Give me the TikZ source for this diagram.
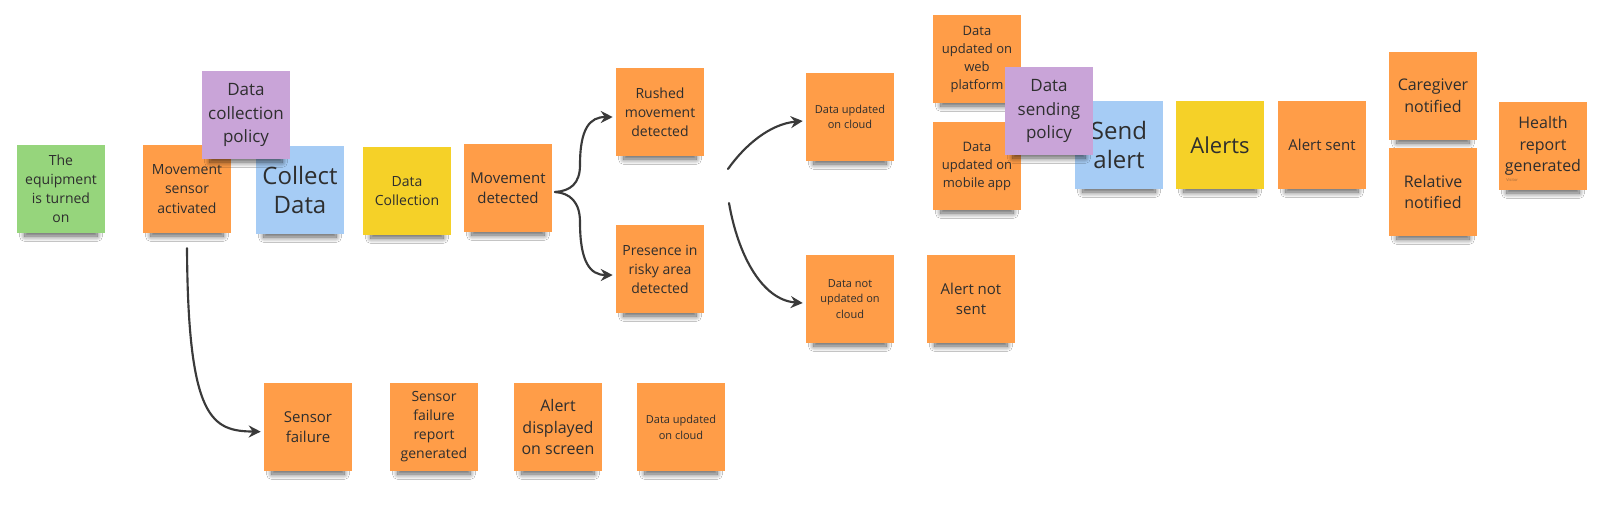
\documentclass[tikz,border=0pt]{standalone}
\usepackage{fontspec}
\setmainfont{Open Sans}
\usetikzlibrary{shadows.blur,arrows.meta,calc}
\definecolor{noteorange}{HTML}{FF9D48}
\definecolor{notegreen}{HTML}{96D57C}
\definecolor{noteblue}{HTML}{A6CCF5}
\definecolor{noteyellow}{HTML}{F5D128}
\definecolor{notepurple}{HTML}{C9A4D8}
\definecolor{notetext}{HTML}{2E2E2E}
\definecolor{arrowgray}{HTML}{3A3A3A}
\begin{document}
\begin{tikzpicture}[x=0.75pt,y=-0.75pt,
  note/.style={rectangle, minimum width=66pt, minimum height=66pt, inner sep=0pt,
    align=center, text=notetext,
    blur shadow={shadow xshift=0pt, shadow yshift=-10pt, shadow scale=0.82,
      shadow blur radius=5pt, shadow blur steps=10, shadow opacity=65}},
  orangenote/.style={note, fill=noteorange},
  greennote/.style={note, fill=notegreen},
  bluenote/.style={note, fill=noteblue},
  yellownote/.style={note, fill=noteyellow},
  purplenote/.style={note, fill=notepurple},
  fxs/.style={font=\fontsize{8.25}{11.8}\selectfont},
  fs/.style={font=\fontsize{9.75}{13.5}\selectfont},
  fm/.style={font=\fontsize{10.5}{14.3}\selectfont},
  fml/.style={font=\fontsize{11.25}{15.4}\selectfont},
  fl/.style={font=\fontsize{12}{16.2}\selectfont},
  fp/.style={font=\fontsize{12.75}{17.3}\selectfont},
  fxl/.style={font=\fontsize{18}{21.5}\selectfont},
  fxlb/.style={font=\fontsize{16.5}{20}\selectfont},
  arr/.style={draw=arrowgray, line width=1.6pt, line cap=round,
    -{Stealth[length=9pt,width=9pt,inset=3pt]}}
]
\useasboundingbox[fill=white] (0,0) rectangle (1600,519);

% main row
\node[greennote, fm] (eq) at (61,189) {The\\equipment\\is turned\\on};
\node[orangenote, fm] (msa) at (187,189) {Movement\\sensor\\activated};
\node[bluenote, fxl] (collect) at (300,190) {Collect\\Data};
\node[purplenote, fp] (dcp) at (246,115) {Data\\collection\\policy};
\node[yellownote, fm] (dcol) at (407,191) {Data\\Collection};
\node[orangenote, fml] (md) at (508,188) {Movement\\detected};
\node[orangenote, fm] (rushed) at (660,112) {Rushed\\movement\\detected};
\node[orangenote, fm] (presence) at (660,269) {Presence in\\risky area\\detected};
\node[orangenote, fxs] (cloud1) at (850,117) {Data updated\\on cloud};
\node[orangenote, fxs] (notcloud) at (850,299) {Data not\\updated on\\cloud};
\node[orangenote, fml] (alertnot) at (971,299) {Alert not\\sent};
\node[orangenote, fs] (web) at (977,59) {Data\\updated on\\web\\platform};
\node[orangenote, fs] (mobile) at (977,166) {Data\\updated on\\mobile app};
\node[bluenote, fxl] (send) at (1119,145) {Send\\alert};
\node[purplenote, fp] (dsp) at (1049,111) {Data\\sending\\policy};
\node[yellownote, fxlb] (alerts) at (1220,145) {Alerts};
\node[orangenote, fml] (alertsent) at (1322,145) {Alert sent};
\node[orangenote, fl] (caregiver) at (1433,96) {Caregiver\\notified};
\node[orangenote, fl] (relative) at (1433,192) {Relative\\notified};
\node[orangenote, fl] (health) at (1543,146) {Health\\report\\generated};
\node[anchor=west, inner sep=0pt, text=notetext!45!noteorange, font=\fontsize{3}{3}\selectfont] (visitor) at (1506,180) {Visitor};

% bottom row
\node[orangenote, fml] (sf) at (308,427) {Sensor\\failure};
\node[orangenote, fm] (sfr) at (434,427) {Sensor\\failure\\report\\generated};
\node[orangenote, fl] (ads) at (558,427) {Alert\\displayed\\on screen};
\node[orangenote, fxs] (cloud2) at (681,427) {Data updated\\on cloud};

% connectors
\draw[arr] ([yshift=-11.25pt]msa.south) .. controls (188,420) and (212,431) .. ([xshift=-2.25pt,yshift=-3.5pt]sf.west);
\coordinate (brace) at (555,192);
\draw[arr] (brace) .. controls (570,191) and (580,184) .. (580,165)
  .. controls (580,128) and (590,117) .. ([xshift=-2.25pt,yshift=-3.75pt]rushed.west);
\draw[arr] (brace) .. controls (570,193) and (580,202) .. (580,222)
  .. controls (580,262) and (590,275) .. ([xshift=-2.25pt,yshift=-4.5pt]presence.west);
\coordinate (up) at (728,169);
\coordinate (down) at (729,203);
\draw[arr] (up) .. controls (745,145) and (770,124) .. ([xshift=-2.25pt,yshift=-3pt]cloud1.west);
\draw[arr] (down) .. controls (738,255) and (762,300) .. ([xshift=-2.25pt,yshift=-3pt]notcloud.west);
\end{tikzpicture}
\end{document}
